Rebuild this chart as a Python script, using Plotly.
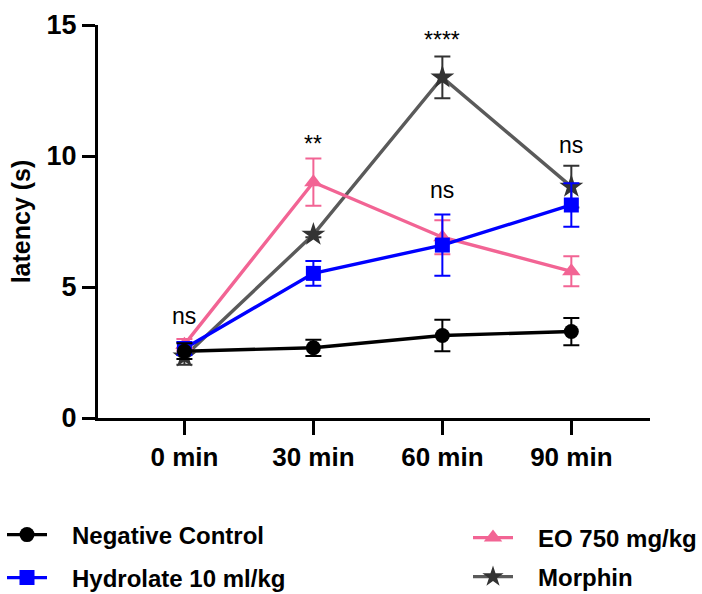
import plotly.graph_objects as go

times = ["0 min", "30 min", "60 min", "90 min"]

nc_mean = [2.55, 2.68, 3.15, 3.30]
nc_err = [0.30, 0.31, 0.60, 0.52]

hyd_mean = [2.65, 5.52, 6.60, 8.13]
hyd_err = [0.25, 0.47, 1.17, 0.83]

eo_mean = [2.80, 9.00, 6.90, 5.60]
eo_err = [0.22, 0.90, 0.65, 0.57]

mor_mean = [2.35, 7.00, 13.00, 8.83]
mor_err = [0.32, 0.10, 0.80, 0.80]

sig_labels = ["ns", "**", "****", "ns", "ns"]
sig_x = ["0 min", "30 min", "60 min", "60 min", "90 min"]
sig_y = [3.89, 10.46, 14.43, 8.70, 10.42]

NB = "\u00a0\u00a0\u00a0"
legend_font = dict(family="Liberation Sans, Arial, sans-serif", size=24, color="black", weight="bold")

fig = go.Figure()

def add(name, y, err, color, linecolor, symbol, size, legend):
    fig.add_trace(go.Scatter(
        x=times, y=y, name=NB + name, mode="lines+markers",
        line=dict(color=linecolor, width=3.4),
        marker=dict(color=color, symbol=symbol, size=size, line=dict(width=0)),
        error_y=dict(type="data", array=err, visible=True, color=color, thickness=2, width=8),
        legend=legend,
    ))

add("Morphin", mor_mean, mor_err, "#333333", "#5a5a5a", "star", 18, "legend4")
add("EO 750 mg/kg", eo_mean, eo_err, "#f26494", "#f26494", "triangle-up", 16, "legend3")
add("Hydrolate 10 ml/kg", hyd_mean, hyd_err, "#0000ff", "#0000ff", "square", 15, "legend2")
add("Negative Control", nc_mean, nc_err, "#000000", "#000000", "circle", 15, "legend")

for lab, xx, yy in zip(sig_labels, sig_x, sig_y):
    fig.add_annotation(x=xx, y=yy, text=lab, showarrow=False,
                       font=dict(family="Liberation Sans, Arial, sans-serif", size=23, color="black"),
                       yanchor="middle")

L, T, PW, PH = 98, 25, 552, 393

def leg(px, py):
    return dict(x=(px - L) / PW, y=(T + PH - py) / PH, xref="paper", yref="paper",
                xanchor="left", yanchor="middle",
                font=legend_font, bgcolor="rgba(0,0,0,0)", borderwidth=0, itemwidth=40)

fig.update_layout(
    width=702, height=594,
    margin=dict(l=L, r=702 - L - PW, t=T, b=594 - T - PH, autoexpand=False),
    plot_bgcolor="white", paper_bgcolor="white",
    showlegend=True,
    legend=leg(2, 535),
    legend2=leg(2, 578),
    legend3=leg(468, 538),
    legend4=leg(468, 577),
    xaxis=dict(
        type="category", categoryorder="array", categoryarray=times,
        range=[-0.67, 3.61],
        showline=True, linecolor="black", linewidth=3,
        ticks="outside", ticklen=14, tickwidth=3, tickcolor="black",
        tickfont=dict(family="Liberation Sans, Arial, sans-serif", size=26, color="black", weight="bold"),
        showgrid=False, zeroline=False, automargin=False,
    ),
    yaxis=dict(
        range=[0, 15], tickvals=[0, 5, 10, 15],
        showline=True, linecolor="black", linewidth=3,
        ticks="outside", ticklen=13, tickwidth=3, tickcolor="black",
        tickfont=dict(family="Liberation Sans, Arial, sans-serif", size=27, color="black", weight="bold"),
        title=dict(text="latency (s)", font=dict(family="Liberation Sans, Arial, sans-serif", size=25, color="black", weight="bold"), standoff=9),
        showgrid=False, zeroline=False, automargin=False,
    ),
)

fig.write_html("out.html")
